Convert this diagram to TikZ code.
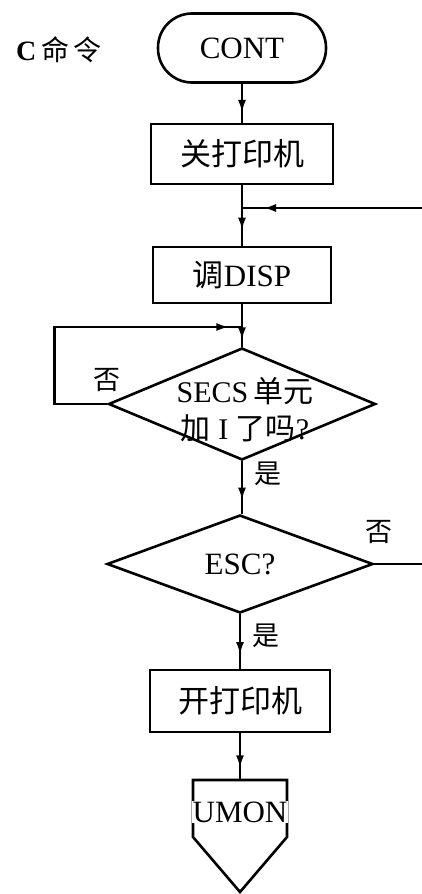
\documentclass[tikz,border=0pt]{standalone}
\usepackage{fontspec}
\setmainfont{Liberation Serif}
\newfontfamily\cjk{Noto Sans CJK SC}
\usetikzlibrary{shapes.geometric,arrows.meta,decorations.markings}
\begin{document}
\begin{tikzpicture}[x=1pt,y=-1pt,
  line width=2.6pt,
  base/.style={font=\fontsize{31}{37}\selectfont, inner sep=0pt},
  term/.style={base, draw, rounded corners=34pt, minimum width=168pt, minimum height=69pt},
  proc/.style={base, draw, minimum width=182pt, minimum height=60pt},
  dec/.style={base, draw, diamond, minimum width=267pt, minimum height=112pt},
  lbl/.style={font=\fontsize{27}{30}\selectfont\cjk, inner sep=0pt},
  flow/.style={postaction={decorate}, decoration={markings, mark=at position #1 with {\arrow{Latex[length=13pt,width=8pt]}}}},
  flow/.default=0.75
]
\useasboundingbox (0,0) rectangle (421,894);

% title
\node[font=\fontsize{28}{30}\selectfont, inner sep=0pt] (title) at (59,50) {\textbf{C}\,{\cjk 命\,令}};

% nodes
\node[term] (cont) at (242,48) {CONT};
\node[proc] (p1) at (242,154) {\cjk 关打印机};
\coordinate (j1) at (242,208);
\node[proc, minimum width=178pt, minimum height=56pt] (p2) at (242,275) {{\cjk 调}DISP};
\coordinate (j2) at (242,327);
\node[dec] (d1) at (242,404) {};
\node[base, align=center, font=\fontsize{30}{37}\selectfont] (d1t) at (245,410) {SECS\,{\cjk 单元}\\{\cjk 加} I {\cjk 了吗}?};
\node[dec, minimum width=266pt, minimum height=98pt] (d2) at (240,564) {ESC?};
\node[proc, minimum width=180pt, minimum height=62pt] (p3) at (240,701) {\cjk 开打印机};

% UMON off-page connector
\coordinate (utop) at (240,780);
\draw (193,780) -- (287,780) -- (287,837) -- (240,892) -- (193,837) -- cycle;
\node[base, fill=white, inner sep=1pt, font=\fontsize{31}{37}\selectfont] (umon) at (240,812) {UMON};

% labels
\node[lbl] (no1) at (107,380) {否};
\node[lbl] (yes1) at (268,474) {是};
\node[lbl] (no2) at (379,532) {否};
\node[lbl] (yes2) at (266,636) {是};

% connectors
\draw[flow] (cont) -- (p1);
\draw[flow] (p1) -- (p2);
\draw[flow=0.85] (p2) -- (d1);
\draw[flow] (d1.south) -- (d1.south |- d2.north);
\draw[flow] (d2) -- (p3);
\draw[flow] (p3.south) -- (utop);
\draw[flow=0.96] (d1.west) -- ++(-53,0) |- (j2);
\draw[flow=0.965] (d2.east) -- ++(56,0) |- (j1);
\end{tikzpicture}
\end{document}
